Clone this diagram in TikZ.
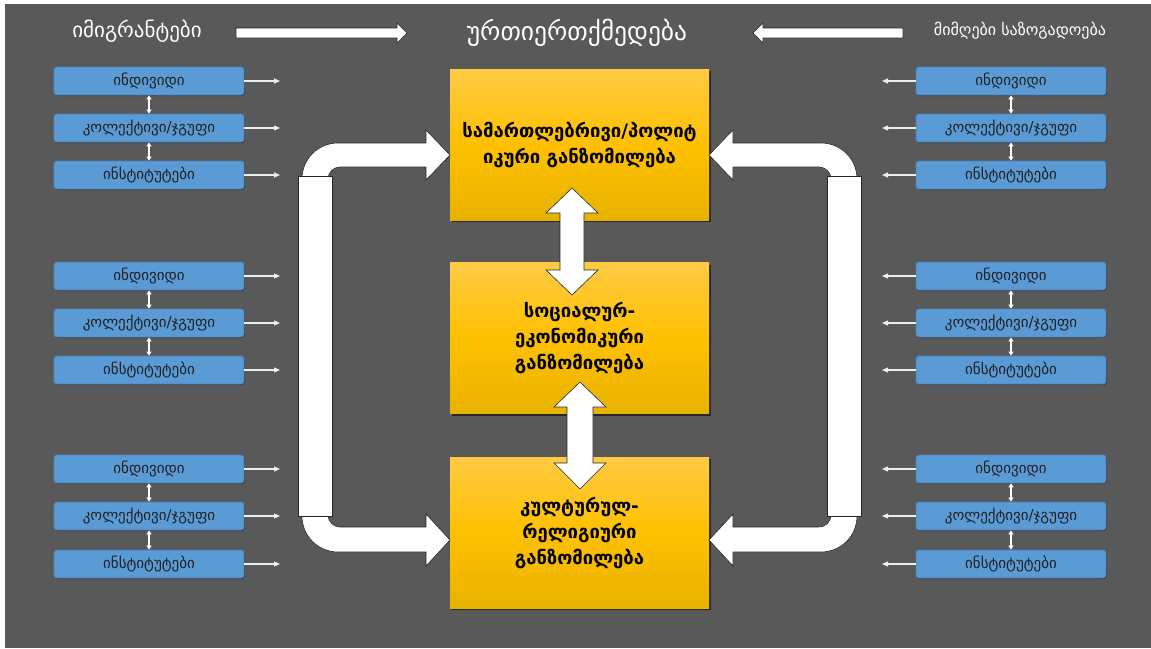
\documentclass[tikz,border=0pt]{standalone}
\usepackage{fontspec}
\setmainfont{DejaVu Sans}
\usetikzlibrary{shadows,arrows.meta}

\definecolor{bg}{HTML}{595959}
\definecolor{boxblue}{HTML}{5B9BD5}
\definecolor{boxblueline}{HTML}{4A84BD}
\definecolor{ytop}{HTML}{FFCB45}
\definecolor{ymid}{HTML}{FFC000}
\definecolor{ybot}{HTML}{E8B200}
\definecolor{darkline}{HTML}{262626}
\definecolor{linkgrey}{HTML}{EDEDED}

\begin{document}
\begin{tikzpicture}[x=1pt,y=-1pt,
  actor/.style={rectangle, rounded corners=3pt, fill=boxblue, draw=boxblueline,
    line width=0.8pt, minimum width=190pt, minimum height=28pt, inner sep=0pt,
    drop shadow={shadow xshift=0.8pt, shadow yshift=-1pt, opacity=0.35, fill=black},
    font=\fontsize{15}{17}\selectfont, text=black!88},
  dimbox/.style={rectangle, minimum width=259pt, minimum height=151pt, inner sep=0pt,
    top color=ytop, bottom color=ybot, middle color=ymid, align=center,
    drop shadow={shadow xshift=1.5pt, shadow yshift=-2pt, opacity=0.55, fill=black},
    font=\bfseries\fontsize{18.5}{26}\selectfont, text=black},
  blockarrow/.style={fill=white, draw=darkline, line width=0.6pt, line join=miter},
  link/.style={draw=linkgrey, line width=1.1pt, -{Triangle[length=6pt,width=5pt]}},
  tie/.style={draw=white, line width=1.6pt,
    {Triangle[length=4pt,width=5pt]}-{Triangle[length=4pt,width=5pt]}},
  heading/.style={text=white, inner sep=0pt}
]
% canvas
\fill[white] (0,0) rectangle (1151,648);
\fill[bg] (5,4) rectangle (1151,648);

% headings
\node[heading, font=\fontsize{21}{24}\selectfont] (imm) at (137,31) {იმიგრანტები};
\node[heading, font=\fontsize{25.5}{28}\selectfont] (inter) at (577,33) {ურთიერთქმედება};
\node[heading, font=\fontsize{16}{19}\selectfont] (host) at (1020,31) {მიმღები საზოგადოება};

% heading arrows
\path[blockarrow] (236,28) -- (397,28) -- (397,23) -- (407,33) -- (397,43) -- (397,38) -- (236,38) -- cycle;
\path[blockarrow] (903,28) -- (763,28) -- (763,23) -- (753,33) -- (763,43) -- (763,38) -- (903,38) -- cycle;

% actor columns
\foreach \g/\ya/\yb/\yc in {1/81/128/175, 2/276/323/370, 3/469/516/564} {
  \node[actor] (li\g) at (149,\ya) {ინდივიდი};
  \node[actor] (lc\g) at (149,\yb) {კოლექტივი/ჯგუფი};
  \node[actor] (ln\g) at (149,\yc) {ინსტიტუტები};
  \node[actor] (ri\g) at (1011,\ya) {ინდივიდი};
  \node[actor] (rc\g) at (1011,\yb) {კოლექტივი/ჯგუფი};
  \node[actor] (rn\g) at (1011,\yc) {ინსტიტუტები};
  \draw[tie] (li\g) -- (lc\g);
  \draw[tie] (lc\g) -- (ln\g);
  \draw[tie] (ri\g) -- (rc\g);
  \draw[tie] (rc\g) -- (rn\g);
  \coordinate (lia\g) at (280,\ya);
  \coordinate (lca\g) at (280,\yb);
  \coordinate (lna\g) at (280,\yc);
  \coordinate (ria\g) at (882,\ya);
  \coordinate (rca\g) at (882,\yb);
  \coordinate (rna\g) at (882,\yc);
  \draw[link] (li\g) -- (lia\g);
  \draw[link] (lc\g) -- (lca\g);
  \draw[link] (ln\g) -- (lna\g);
  \draw[link] (ri\g) -- (ria\g);
  \draw[link] (rc\g) -- (rca\g);
  \draw[link] (rn\g) -- (rna\g);
}

% dimensions
\node[dimbox] (legal) at (579.5,144.5) {სამართლებრივი/პოლიტ\\იკური განზომილება};
\node[dimbox] (socio) at (579.5,338) {სოციალურ-\\ეკონომიკური\\განზომილება};
\node[dimbox] (cult) at (579.5,532.5) {კულტურულ-\\რელიგიური\\განზომილება};

% two-way block arrows between the dimensions
\path[blockarrow] (572,188) -- (598,213) -- (584,213) -- (584,270) -- (598,270) -- (572,295)
  -- (546,270) -- (560,270) -- (560,213) -- (546,213) -- cycle;
\path[blockarrow] (580,382) -- (606,407) -- (593,407) -- (593,463) -- (606,463) -- (580,489)
  -- (554,463) -- (567,463) -- (567,407) -- (554,407) -- cycle;

% bent arrows feeding the dimensions from both sides
\foreach \sx/\sh in {1/0, -1/1159} {
  \begin{scope}[xshift=\sh pt, xscale=\sx]
    \path[blockarrow] (302,200) -- (302,179) .. controls (302,159) and (318,143) .. (338,143)
      -- (426,143) -- (426,130) -- (450,155) -- (426,180) -- (426,167) -- (340,167)
      .. controls (333.4,167) and (328,172.4) .. (328,179) -- (328,200) -- cycle;
    \path[blockarrow] (302,490) -- (302,516) .. controls (302,536) and (318,552) .. (338,552)
      -- (426,552) -- (426,566) -- (450,540) -- (426,514) -- (426,527) -- (340,527)
      .. controls (333.4,527) and (328,521.6) .. (328,515) -- (328,490) -- cycle;
    \path[blockarrow] (298,176) rectangle (332,516);
  \end{scope}
}
\end{tikzpicture}
\end{document}
